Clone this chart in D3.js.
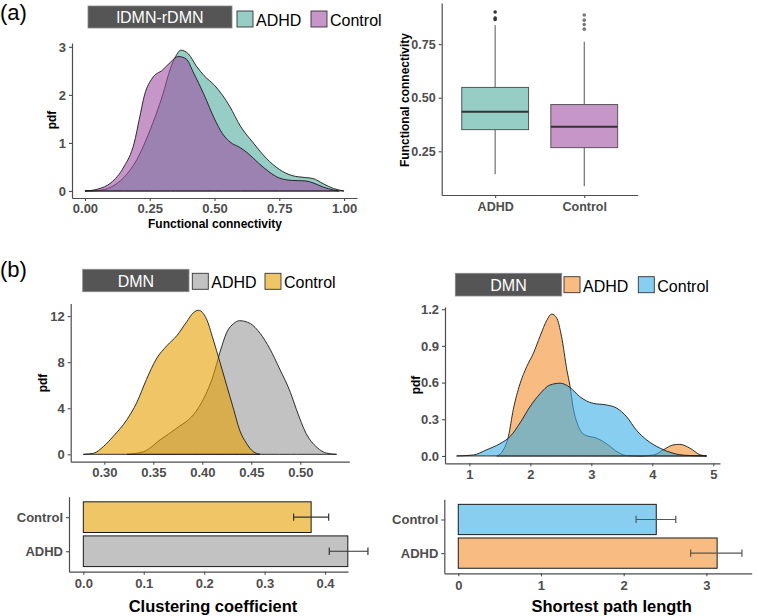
<!DOCTYPE html>
<html>
<head>
<meta charset="utf-8">
<script src="https://cdn.jsdelivr.net/npm/d3@7"></script>
<style>
  body { margin: 0; background: #fff; }
  svg { display: block; font-family: "Liberation Sans", Arial, sans-serif; }
</style>
</head>
<body>
<svg id="fig" width="757" height="616"></svg>
<script>
// ---- data ----
// (a) lDMN-rDMN functional connectivity densities: [value, pdf]
var fcAdhd = [[0,0],[0.05,0.01],[0.10,0.08],[0.15,0.28],[0.20,0.65],[0.25,1.25],[0.30,2.0],[0.33,2.55],[0.35,2.8],[0.37,2.93],[0.40,2.85],[0.43,2.6],[0.46,2.4],[0.50,2.2],[0.53,2.0],[0.56,1.75],[0.60,1.35],[0.65,1.0],[0.70,0.68],[0.75,0.45],[0.80,0.32],[0.85,0.28],[0.88,0.26],[0.92,0.15],[0.96,0.05],[1.00,0]];
var fcControl = [[0,0],[0.05,0.04],[0.10,0.17],[0.15,0.5],[0.19,1.0],[0.21,1.5],[0.23,2.0],[0.26,2.35],[0.30,2.52],[0.33,2.68],[0.36,2.8],[0.39,2.75],[0.42,2.45],[0.46,2.0],[0.50,1.5],[0.53,1.2],[0.56,1.02],[0.60,0.9],[0.63,0.78],[0.67,0.58],[0.71,0.4],[0.75,0.27],[0.80,0.22],[0.85,0.21],[0.88,0.17],[0.92,0.08],[0.96,0.02],[0.98,0]];

// (a) boxplot stats
var boxGroups = ["ADHD", "Control"];
var boxLow = [0.143, 0.087];
var boxQ1 = [0.351, 0.267];
var boxMedian = [0.434, 0.364];
var boxQ3 = [0.548, 0.468];
var boxHigh = [0.839, 0.761];
var boxOutliers = [[0.90, 0.872, 0.865], [0.886, 0.862, 0.842, 0.82]];

// (b) DMN clustering coefficient densities
var ccAdhd = [[0.323,0],[0.34,0.23],[0.357,1.26],[0.374,2.28],[0.391,3.45],[0.401,4.77],[0.411,6.8],[0.418,8.86],[0.425,10.6],[0.432,11.35],[0.438,11.6],[0.449,11.35],[0.459,10.5],[0.469,9.15],[0.479,7.4],[0.49,5.35],[0.496,3.9],[0.506,1.8],[0.517,0.6],[0.527,0.1],[0.537,0]];
var ccControl = [[0.2786,0],[0.289,0.09],[0.299,0.67],[0.309,1.55],[0.323,3.0],[0.333,4.47],[0.343,6.5],[0.353,8.27],[0.364,9.44],[0.374,10.3],[0.384,11.5],[0.391,12.3],[0.396,12.5],[0.404,11.8],[0.411,10.0],[0.418,8.0],[0.425,5.94],[0.432,3.9],[0.438,2.13],[0.445,0.96],[0.452,0.23],[0.459,0]];

// (b) DMN shortest path length densities
var splAdhd = [[1.45,0],[1.557,0.05],[1.64,0.16],[1.72,0.38],[1.83,0.59],[1.94,0.73],[2.05,0.84],[2.16,0.98],[2.27,1.11],[2.35,1.16],[2.43,1.13],[2.51,0.98],[2.6,0.70],[2.65,0.57],[2.70,0.40],[2.79,0.24],[2.9,0.17],[3.09,0.145],[3.25,0.10],[3.42,0.035],[3.58,0.003],[3.8,0],[4.02,0.008],[4.18,0.05],[4.34,0.09],[4.45,0.095],[4.62,0.063],[4.78,0.01],[4.89,0]];
var splControl = [[0.79,0],[1.066,0.008],[1.28,0.05],[1.5,0.10],[1.67,0.16],[1.83,0.27],[1.99,0.40],[2.16,0.51],[2.32,0.58],[2.49,0.595],[2.65,0.56],[2.81,0.485],[3.03,0.43],[3.25,0.417],[3.42,0.39],[3.58,0.32],[3.74,0.21],[3.91,0.13],[4.13,0.063],[4.34,0.022],[4.56,0.005],[4.89,0]];

// (b) bar charts: mean with error range
var barGroups = ["Control", "ADHD"];
var ccMean = [0.377, 0.4377];
var ccLo = [0.348, 0.407];
var ccHi = [0.406, 0.471];
var splMean = [2.394, 3.13];
var splLo = [2.15, 2.81];
var splHi = [2.63, 3.43];

// ---- colours ----
var teal = "rgb(80,172,157)", purple = "rgb(160,80,163)";
var grey = "#999999", gold = "#E69F00";
var orange = "rgb(243,143,47)", blue = "rgb(55,173,230)";
var alpha = 0.6;
var axisCol = "#4d4d4d", tickCol = "#4d4d4d";

var svg = d3.select("#fig");

function styleAxis(g, size) {
  g.attr("font-family", null).attr("font-size", size);
  g.select(".domain").attr("stroke", axisCol).attr("stroke-width", 1.2);
  g.selectAll(".tick line").attr("stroke", axisCol).attr("stroke-width", 1.1);
  g.selectAll(".tick text").attr("fill", tickCol).attr("font-weight", "bold");
}

function title(txt, x, y, size, rotate) {
  var t = svg.append("text")
    .attr("font-weight", "bold").attr("font-size", size).attr("fill", "#000")
    .attr("text-anchor", "middle").text(txt);
  if (rotate) t.attr("transform", "translate(" + x + "," + y + ") rotate(-90)");
  else t.attr("x", x).attr("y", y);
}

function legend(o) {
  svg.append("rect").attr("x", o.bx).attr("y", o.by).attr("width", o.bw).attr("height", o.bh)
    .attr("fill", "#555").attr("stroke", "#888").attr("stroke-width", 0.8);
  svg.append("text").attr("x", o.bx + o.bw / 2).attr("y", o.by + o.bh - 5)
    .attr("text-anchor", "middle").attr("fill", "#fff").attr("font-size", 16).text(o.label);
  o.items.forEach(function (it) {
    svg.append("rect").attr("x", it.x).attr("y", o.sy).attr("width", 16).attr("height", 16)
      .attr("fill", it.color).attr("fill-opacity", alpha).attr("stroke", "#333").attr("stroke-width", 0.9);
    svg.append("text").attr("x", it.x + 19).attr("y", o.sy + 15).attr("font-size", 16)
      .attr("fill", "#000").text(it.name);
  });
}

function densityPanel(o) {
  var x = d3.scaleLinear().domain(o.xd).range(o.xr);
  var y = d3.scaleLinear().domain(o.yd).range(o.yr);
  var area = d3.area().curve(d3.curveMonotoneX)
    .x(function (d) { return x(d[0]); })
    .y0(y(0)).y1(function (d) { return y(d[1]); });
  o.series.forEach(function (s) {
    svg.append("path").datum(s.pts).attr("d", area)
      .attr("fill", s.color).attr("fill-opacity", alpha)
      .attr("stroke", "#1a1a1a").attr("stroke-width", 0.9);
  });
  svg.append("g").attr("transform", "translate(0," + o.yr[0] + ")")
    .call(d3.axisBottom(x).tickValues(o.xt).tickFormat(d3.format(o.xf)).tickSize(3).tickSizeOuter(0).tickPadding(3))
    .call(styleAxis, 13);
  svg.append("g").attr("transform", "translate(" + o.xr[0] + ",0)")
    .call(d3.axisLeft(y).tickValues(o.yt).tickFormat(d3.format(o.yf)).tickSize(3).tickSizeOuter(0).tickPadding(3))
    .call(styleAxis, 13);
}

function barPanel(o) {
  var x = d3.scaleLinear().domain(o.xd).range(o.xr);
  var y = d3.scalePoint().domain(barGroups).range(o.yr).padding(0.6);
  var h = y.step() * 0.9;
  barGroups.forEach(function (g, i) {
    svg.append("rect").attr("x", x(0)).attr("y", y(g) - h / 2)
      .attr("width", x(o.mean[i]) - x(0)).attr("height", h)
      .attr("fill", o.colors[i]).attr("fill-opacity", alpha)
      .attr("stroke", "#1a1a1a").attr("stroke-width", 1);
    var cy = y(g), c = h * 0.12;
    var eb = svg.append("g").attr("stroke", o.ebCol).attr("stroke-width", 1.2);
    eb.append("line").attr("x1", x(o.lo[i])).attr("x2", x(o.hi[i])).attr("y1", cy).attr("y2", cy);
    eb.append("line").attr("x1", x(o.lo[i])).attr("x2", x(o.lo[i])).attr("y1", cy - c).attr("y2", cy + c);
    eb.append("line").attr("x1", x(o.hi[i])).attr("x2", x(o.hi[i])).attr("y1", cy - c).attr("y2", cy + c);
  });
  svg.append("g").attr("transform", "translate(0," + o.yr[1] + ")")
    .call(d3.axisBottom(x).tickValues(o.xt).tickFormat(d3.format(o.xf)).tickSize(3).tickSizeOuter(0).tickPadding(4))
    .call(styleAxis, 13);
  svg.append("g").attr("transform", "translate(" + o.xr[0] + ",0)")
    .call(d3.axisLeft(y).tickSize(3).tickSizeOuter(0).tickPadding(3))
    .call(styleAxis, 13);
}

// ---- panel labels ----
svg.append("text").attr("x", 0).attr("y", 20).attr("font-size", 22).text("(a)");
svg.append("text").attr("x", 0).attr("y", 277).attr("font-size", 22).text("(b)");

// ---- (a) density ----
legend({bx: 88, by: 6, bw: 144, bh: 22, label: "lDMN-rDMN", sy: 11,
  items: [{x: 237, name: "ADHD", color: teal}, {x: 311, name: "Control", color: purple}]});
densityPanel({xd: [-0.05, 1.05], xr: [72, 357], yd: [-0.146, 3.08], yr: [198, 43],
  xt: [0, 0.25, 0.5, 0.75, 1], xf: ".2f", yt: [0, 1, 2, 3], yf: "d",
  series: [{pts: fcAdhd, color: teal}, {pts: fcControl, color: purple}]});
title("Functional connectivity", 215, 228, 12);
title("pdf", 56, 120, 12, true);

// ---- (a) boxplot ----
(function () {
  var x = d3.scalePoint().domain(boxGroups).range([441.7, 637.7]).padding(0.6);
  var y = d3.scaleLinear().domain([0.046, 0.942]).range([195, 3]);
  var w = x.step() * 0.75;
  var fills = [teal, purple];
  var dotCols = ["#333", "#777"];
  boxGroups.forEach(function (g, i) {
    var cx = x(g);
    svg.append("line").attr("x1", cx).attr("x2", cx).attr("y1", y(boxLow[i])).attr("y2", y(boxQ1[i]))
      .attr("stroke", "#555").attr("stroke-width", 1);
    svg.append("line").attr("x1", cx).attr("x2", cx).attr("y1", y(boxQ3[i])).attr("y2", y(boxHigh[i]))
      .attr("stroke", "#555").attr("stroke-width", 1);
    svg.append("rect").attr("x", cx - w / 2).attr("width", w)
      .attr("y", y(boxQ3[i])).attr("height", y(boxQ1[i]) - y(boxQ3[i]))
      .attr("fill", fills[i]).attr("fill-opacity", alpha).attr("stroke", "#555").attr("stroke-width", 1);
    svg.append("line").attr("x1", cx - w / 2).attr("x2", cx + w / 2)
      .attr("y1", y(boxMedian[i])).attr("y2", y(boxMedian[i]))
      .attr("stroke", "#333").attr("stroke-width", 2);
    boxOutliers[i].forEach(function (v) {
      svg.append("circle").attr("cx", cx).attr("cy", y(v)).attr("r", 1.8).attr("fill", dotCols[i]);
    });
  });
  svg.append("g").attr("transform", "translate(0,195)")
    .call(d3.axisBottom(x).tickSize(3).tickSizeOuter(0).tickPadding(4))
    .call(styleAxis, 12.5);
  svg.append("g").attr("transform", "translate(441.7,0)")
    .call(d3.axisLeft(y).tickValues([0.25, 0.5, 0.75]).tickFormat(d3.format(".2f")).tickSize(3).tickSizeOuter(0).tickPadding(3))
    .call(styleAxis, 12.5);
  title("Functional connectivity", 409, 100, 12, true);
})();

// ---- (b) clustering coefficient ----
legend({bx: 82.7, by: 269.3, bw: 106.3, bh: 22.4, label: "DMN", sy: 273.3,
  items: [{x: 192.3, name: "ADHD", color: grey}, {x: 265, name: "Control", color: gold}]});
densityPanel({xd: [0.2657, 0.55], xr: [70.7, 349.3], yd: [-0.64, 13.1], yr: [461.7, 303.4],
  xt: [0.30, 0.35, 0.40, 0.45, 0.50], xf: ".2f", yt: [0, 4, 8, 12], yf: "d",
  series: [{pts: ccAdhd, color: grey}, {pts: ccControl, color: gold}]});
title("pdf", 47, 383, 12, true);
barPanel({xd: [-0.0237, 0.438], xr: [69, 348], yr: [496.7, 571.7],
  xt: [0, 0.1, 0.2, 0.3, 0.4], xf: ".1f", mean: ccMean, lo: ccLo, hi: ccHi,
  colors: [gold, grey], ebCol: "#333"});
title("Clustering coefficient", 213, 612, 16.5);

// ---- (b) shortest path length ----
legend({bx: 455.3, by: 273.3, bw: 106.4, bh: 22.7, label: "DMN", sy: 276.7,
  items: [{x: 564, name: "ADHD", color: orange}, {x: 638.3, name: "Control", color: blue}]});
densityPanel({xd: [0.6, 5.11], xr: [445, 720], yd: [-0.06, 1.218], yr: [463.3, 307],
  xt: [1, 2, 3, 4, 5], xf: "d", yt: [0, 0.3, 0.6, 0.9, 1.2], yf: ".1f",
  series: [{pts: splAdhd, color: orange}, {pts: splControl, color: blue}]});
title("pdf", 420, 385, 12, true);
barPanel({xd: [-0.169, 3.548], xr: [444.3, 751.7], yr: [499.3, 573.3],
  xt: [0, 1, 2, 3], xf: "d", mean: splMean, lo: splLo, hi: splHi,
  colors: [blue, orange], ebCol: "#555"});
title("Shortest path length", 611.7, 612, 16.5);
</script>
</body>
</html>
